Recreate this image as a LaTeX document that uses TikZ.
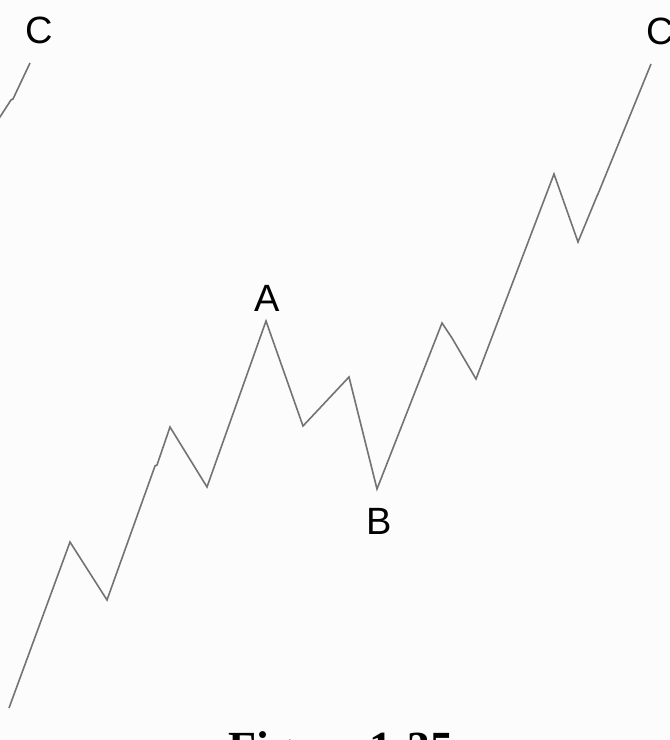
\documentclass[tikz,border=0pt]{standalone}
\usepackage{fontspec}
\setmainfont{Liberation Serif}
\newfontfamily\labelfont{Liberation Sans}
\begin{document}
\begin{tikzpicture}[x=1pt,y=-1pt,
  wave/.style={draw=black!55, line width=1.6pt, line join=miter},
  ptlabel/.style={font=\labelfont\fontsize{38}{40}\selectfont, inner sep=0pt, text=black},
  caption/.style={font=\bfseries\fontsize{46}{50}\selectfont, inner sep=0pt, anchor=base}]
\path[use as bounding box, fill=white!99!black] (0,0) rectangle (670,740);
\begin{scope}
\clip (0,0) rectangle (670,740);
% main wave
\coordinate (p0) at (9,708);
\coordinate (p1) at (70,542);
\coordinate (p2) at (107,600);
\coordinate (p3) at (155,466);
\coordinate (p4) at (170,427);
\coordinate (p5) at (207,487);
\coordinate (pA) at (266,321);
\coordinate (p6) at (303,426);
\coordinate (p7) at (349,377);
\coordinate (pB) at (377,489);
\coordinate (p8) at (442,323);
\coordinate (p9) at (452,338);
\coordinate (p10) at (476,379);
\coordinate (p11) at (554,174);
\coordinate (p12) at (578,242);
\coordinate (p13) at (597,196);
\coordinate (pC) at (651,64);
\draw[wave] (p0) -- (p1) -- (p2) -- (p3) -- ++(2,-1) -- (p4) -- (p5) -- (pA) -- (p6) -- (p7) -- (pB) -- (p8) -- (p9) -- (p10) -- (p11) -- (p12) -- (p13) -- ++(1,-2) -- (pC);
% left partial wave
\coordinate (q0) at (-2,120);
\coordinate (q1) at (11,100);
\coordinate (qC) at (30,63);
\draw[wave] (q0) -- (q1) -- ++(2,-1) -- (qC);
% labels
\node[ptlabel] (lC1) at (39,30) {C};
\node[ptlabel] (lC2) at (660,31) {C};
\node[ptlabel] (lA) at (267,298) {A};
\node[ptlabel] (lB) at (379,521) {B};
\node[caption] (cap) at (341,763) {Figure 1-35};
\end{scope}
\end{tikzpicture}
\end{document}
